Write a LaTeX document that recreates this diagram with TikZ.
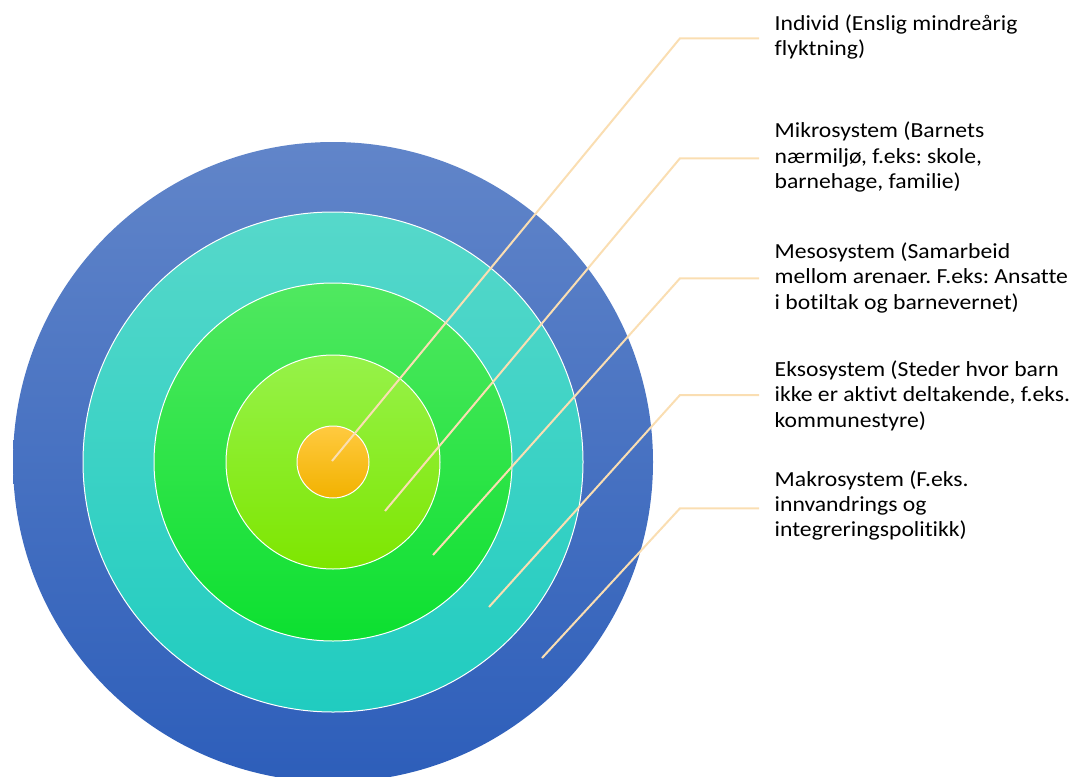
\documentclass[tikz,border=0pt]{standalone}
\usepackage{fontspec}
\setmainfont{Carlito}[Ligatures=NoCommon]
\frenchspacing
\begin{document}
\begin{tikzpicture}[x=1pt,y=-1pt,
  ring/.style={circle,inner sep=0pt,draw=white,line width=1pt},
  leader/.style={draw={rgb,255:red,250;green,222;blue,178},line width=2pt},
  lbl/.style={anchor=base west,align=left,inner sep=0pt,font=\fontsize{21.5}{25.2}\selectfont\addfontfeature{FakeStretch=1.1}\frenchspacing}]
\useasboundingbox (0,0) rectangle (1081,776);
\definecolor{c1t}{RGB}{97,133,201}\definecolor{c1b}{RGB}{45,94,186}
\definecolor{c2t}{RGB}{86,216,202}\definecolor{c2b}{RGB}{32,204,192}
\definecolor{c3t}{RGB}{80,232,96}\definecolor{c3b}{RGB}{12,224,48}
\definecolor{c4t}{RGB}{150,242,74}\definecolor{c4b}{RGB}{126,230,0}
\definecolor{c5t}{RGB}{255,202,64}\definecolor{c5b}{RGB}{242,178,0}
\node[ring,draw=none,minimum size=640pt,top color=c1t,bottom color=c1b] (makro) at (333,462) {};
\node[ring,minimum size=500pt,top color=c2t,bottom color=c2b] (ekso) at (333,462) {};
\node[ring,minimum size=358pt,top color=c3t,bottom color=c3b] (meso) at (333,462) {};
\node[ring,minimum size=214pt,top color=c4t,bottom color=c4b] (mikro) at (333,462) {};
\node[ring,minimum size=72pt,top color=c5t,bottom color=c5b] (ind) at (333,462) {};
% leader points
\coordinate (p1) at (332,461);\coordinate (b1) at (680,38.3);\coordinate (e1) at (759,38.3);
\coordinate (p2) at (385,511);\coordinate (b2) at (680,158.3);\coordinate (e2) at (759,158.3);
\coordinate (p3) at (433,555);\coordinate (b3) at (680,278.3);\coordinate (e3) at (759,278.3);
\coordinate (p4) at (489,607);\coordinate (b4) at (680,395);\coordinate (e4) at (759,395);
\coordinate (p5) at (542,658);\coordinate (b5) at (680,508.3);\coordinate (e5) at (759,508.3);
\draw[leader] (p1) -- (b1) -- (e1);
\draw[leader] (p2) -- (b2) -- (e2);
\draw[leader] (p3) -- (b3) -- (e3);
\draw[leader] (p4) -- (b4) -- (e4);
\draw[leader] (p5) -- (b5) -- (e5);
\node[lbl] (t1) at (774.5,56) {Individ (Enslig mindreårig\\flyktning)};
\node[lbl] (t2) at (774.5,188.3) {Mikrosystem (Barnets\\nærmiljø, f.eks: skole,\\barnehage, familie)};
\node[lbl] (t3) at (774.5,309) {Mesosystem (Samarbeid\\mellom arenaer. F.eks: Ansatte\\i botiltak og barnevernet)};
\node[lbl] (t4) at (774.5,427) {Eksosystem (Steder hvor barn\\ikke er aktivt deltakende, f.eks.\\kommunestyre)};
\node[lbl] (t5) at (774.5,536.7) {Makrosystem (F.eks.\\innvandrings og\\integreringspolitikk)};
\end{tikzpicture}
\end{document}
